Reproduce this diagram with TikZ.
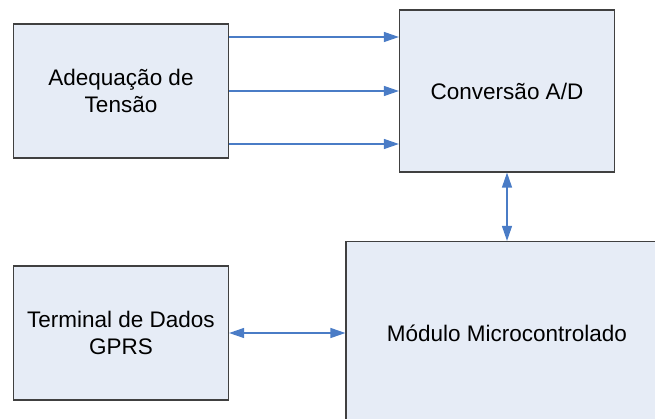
\documentclass[tikz,border=0pt]{standalone}
\usepackage{fontspec}
\setmainfont{Liberation Sans}
\usetikzlibrary{arrows.meta}
\definecolor{boxfill}{RGB}{230,236,246}
\definecolor{boxline}{RGB}{64,64,64}
\definecolor{arrowblue}{RGB}{74,124,198}
\begin{document}
\begin{tikzpicture}[x=1pt,y=-1pt,
  blockbox/.style={draw=boxline, line width=1.2pt, fill=boxfill, align=center,
    inner sep=0pt, font=\fontsize{22.5}{27}\selectfont},
  conn/.style={draw=arrowblue, line width=1.3pt, -{Triangle[length=15pt,width=10pt]}},
  dconn/.style={draw=arrowblue, line width=1.3pt, {Triangle[length=15pt,width=10pt]}-{Triangle[length=15pt,width=10pt]}}]
\useasboundingbox (0,0) rectangle (655,419);
\clip (0,0) rectangle (655,419);
\node[blockbox, minimum width=215pt, minimum height=134pt] (b1) at (121,91) {Adequação de\\Tensão};
\node[blockbox, minimum width=215pt, minimum height=162pt] (b2) at (507,91) {Conversão A/D};
\node[blockbox, minimum width=322pt, minimum height=184pt] (b3) at (507,333.5) {Módulo Microcontrolado};
\node[blockbox, minimum width=215pt, minimum height=134pt] (b4) at (121,333) {Terminal de Dados\\GPRS};
\draw[conn] ([yshift=-53pt]b1.east) -- ([yshift=-53pt]b1.east -| b2.west);
\draw[conn] (b1.east) -- (b1.east -| b2.west);
\draw[conn] ([yshift=54pt]b1.east) -- ([yshift=54pt]b1.east -| b2.west);
\draw[dconn] (b2.south) -- (b2.south |- b3.north);
\draw[dconn] (b4.east) -- (b4.east -| b3.west);
\end{tikzpicture}
\end{document}
